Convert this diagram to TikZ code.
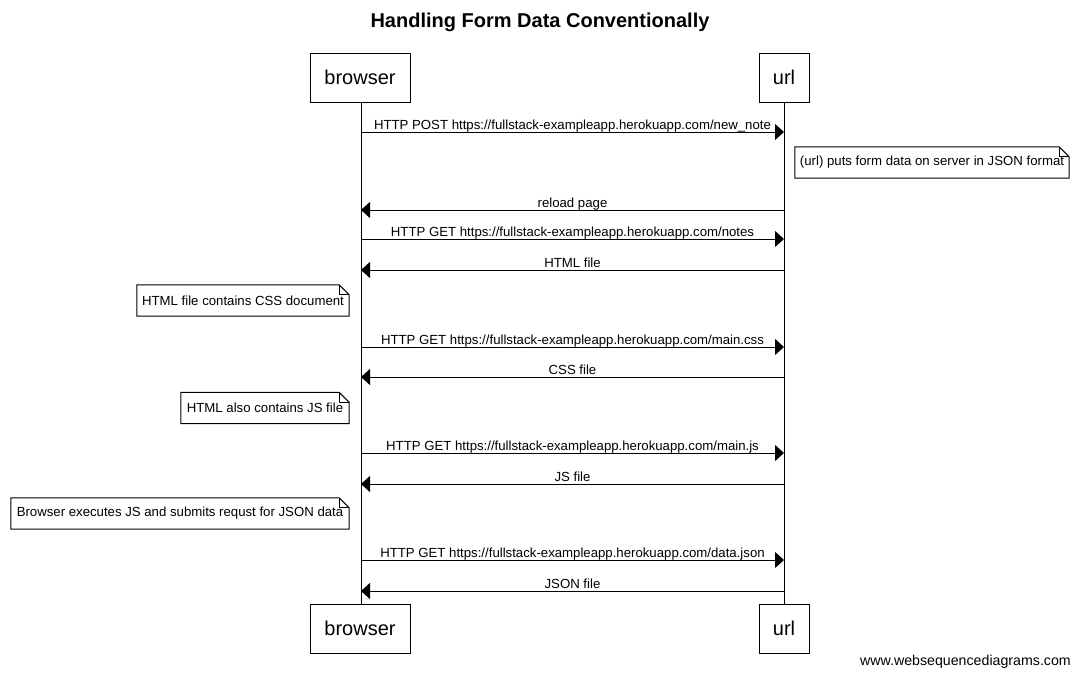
\documentclass[tikz,border=0pt]{standalone}
\usepackage{fontspec}
\setmainfont{Liberation Sans}
\usetikzlibrary{arrows.meta}
\tikzset{
  actor/.style={draw, line width=1pt, minimum width=#1, minimum height=49, inner sep=0pt, font=\fontsize{20}{24}\selectfont},
  msg/.style={line width=1pt, -{Triangle[length=9,width=16]}},
  lbl/.style={font=\fontsize{13.2}{15}\selectfont, inner sep=0pt, anchor=base, yshift=2.5pt},
  notebox/.style={font=\fontsize{13.2}{15}\selectfont, inner sep=0pt, minimum height=31},
  life/.style={line width=1pt},
}
\newcommand{\notedraw}[1]{%
  \draw[line width=1pt] (#1.south west) -- (#1.north west) -- ([xshift=-10]#1.north east) -- ([yshift=-10]#1.north east) -- (#1.south east) -- cycle;
  \draw[line width=0.8pt] ([xshift=-10]#1.north east) -- ([xshift=-10,yshift=-10]#1.north east) -- ([yshift=-10]#1.north east);}
\begin{document}
\begin{tikzpicture}[x=1pt,y=-1pt]
\useasboundingbox (0,0) rectangle (1079,678);
\fill[white] (0,0) rectangle (1079,678);
\node[font=\bfseries\fontsize{20}{24}\selectfont] (title) at (540,22) {Handling Form Data Conventionally};
\node[actor=100] (bt) at (360,77.5) {browser};
\node[actor=50] (ut) at (784,77.5) {url};
\node[actor=100] (bb) at (360,628.5) {browser};
\node[actor=50] (ub) at (784,628.5) {url};
\draw[life] (bt.south -| 361,0) -- (bb.north -| 361,0);
\draw[life] (ut.south) -- (ub.north);
% coordinates on lifelines
\foreach \n/\y in {1/132,2/210,3/239,4/270,5/347,6/377,7/453,8/484,9/560,10/591}{
  \coordinate (b\n) at (361,\y);
  \coordinate (u\n) at (784,\y);
}
\draw[msg] (b1) -- (u1) node[lbl, pos=0.5] {HTTP POST https://fullstack-exampleapp.herokuapp.com/new\_note};
\node[notebox, minimum width=274] (n1) at (932,162.5) {(url) puts form data on server in JSON format};
\notedraw{n1}
\draw[msg] (u2) -- (b2) node[lbl, pos=0.5] {reload page};
\draw[msg] (b3) -- (u3) node[lbl, pos=0.5] {HTTP GET https://fullstack-exampleapp.herokuapp.com/notes};
\draw[msg] (u4) -- (b4) node[lbl, pos=0.5] {HTML file};
\node[notebox, minimum width=212] (n2) at (243,300.5) {HTML file contains CSS document};
\notedraw{n2}
\draw[msg] (b5) -- (u5) node[lbl, pos=0.5] {HTTP GET https://fullstack-exampleapp.herokuapp.com/main.css};
\draw[msg] (u6) -- (b6) node[lbl, pos=0.5] {CSS file};
\node[notebox, minimum width=168] (n3) at (265,408) {HTML also contains JS file};
\notedraw{n3}
\draw[msg] (b7) -- (u7) node[lbl, pos=0.5] {HTTP GET https://fullstack-exampleapp.herokuapp.com/main.js};
\draw[msg] (u8) -- (b8) node[lbl, pos=0.5] {JS file};
\node[notebox, minimum width=338] (n4) at (180,513.5) {Browser executes JS and submits requst for JSON data};
\notedraw{n4}
\draw[msg] (b9) -- (u9) node[lbl, pos=0.5] {HTTP GET https://fullstack-exampleapp.herokuapp.com/data.json};
\draw[msg] (u10) -- (b10) node[lbl, pos=0.5] {JSON file};
\node[font=\fontsize{14.2}{16}\selectfont, anchor=east, inner sep=0pt] (wm) at (1071,662) {www.websequencediagrams.com};
\end{tikzpicture}
\end{document}
